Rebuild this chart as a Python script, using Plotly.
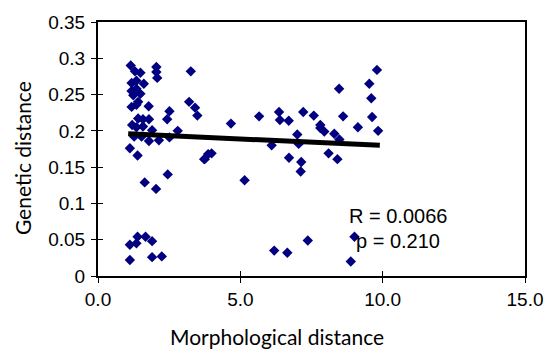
import plotly.graph_objects as go

morph = [1.15, 1.30, 1.49, 2.05, 2.05, 2.08, 3.26, 1.18, 1.35, 1.61, 1.18, 1.35, 1.49, 1.24, 1.41,
         1.18, 1.35, 1.78, 2.51, 2.43, 3.20, 3.41, 3.49, 1.41, 1.58, 1.79, 1.20, 1.35, 1.58, 1.90,
         2.80, 1.27, 1.53, 1.79, 2.14, 2.51, 1.12, 1.39, 3.73, 3.87, 2.45, 1.64, 2.04,
         1.12, 1.39, 1.35, 1.67, 1.90, 1.12, 1.90, 2.24,
         3.75, 3.99, 4.67, 5.15, 5.66, 6.36, 6.39, 6.70, 6.10, 7.21, 7.00, 7.05, 6.71, 7.14, 7.12,
         7.58, 7.81, 7.81, 7.95, 8.30, 8.48, 8.10, 8.41, 8.47, 8.61, 9.13, 9.53, 9.60, 9.63, 9.84,
         9.80, 6.19, 6.65, 7.37, 9.01, 8.88]
genetic = [0.290, 0.282, 0.280, 0.288, 0.281, 0.273, 0.282, 0.266, 0.269, 0.265, 0.255, 0.258, 0.251, 0.249, 0.240,
           0.233, 0.236, 0.234, 0.227, 0.216, 0.240, 0.232, 0.221, 0.217, 0.216, 0.216, 0.208, 0.205, 0.206, 0.201,
           0.200, 0.192, 0.192, 0.186, 0.187, 0.191, 0.176, 0.166, 0.161, 0.168, 0.140, 0.129, 0.120,
           0.043, 0.054, 0.045, 0.054, 0.048, 0.022, 0.026, 0.027,
           0.161, 0.169, 0.210, 0.132, 0.220, 0.226, 0.215, 0.214, 0.180, 0.226, 0.195, 0.182, 0.163, 0.157, 0.144,
           0.221, 0.208, 0.204, 0.199, 0.196, 0.188, 0.169, 0.161, 0.258, 0.220, 0.205, 0.265, 0.245, 0.219, 0.200,
           0.284, 0.035, 0.032, 0.049, 0.054, 0.020]

trend_x = [1.06, 9.9]
trend_y = [0.196, 0.180]

x_ticks = [0, 5, 10, 15]
y_ticks = [0, 0.05, 0.1, 0.15, 0.2, 0.25, 0.3, 0.35]
y_tick_text = ["0", "0.05", "0.1", "0.15", "0.2", "0.25", "0.3", "0.35"]

fig = go.Figure()
fig.add_trace(go.Scatter(x=morph, y=genetic, mode="markers",
                         marker=dict(symbol="diamond", size=8, color="#000080",
                                     line=dict(width=0)), showlegend=False))
fig.add_trace(go.Scatter(x=trend_x, y=trend_y, mode="lines",
                         line=dict(color="black", width=5), showlegend=False))
# invisible trace so the inner-tick overlay axes are drawn
fig.add_trace(go.Scatter(x=[None], y=[None], xaxis="x2", yaxis="y2",
                         mode="markers", showlegend=False, hoverinfo="skip"))

axis_common = dict(showline=True, linecolor="black", linewidth=2, mirror=True,
                   ticks="outside", ticklen=5, tickwidth=1, tickcolor="black",
                   showgrid=False, zeroline=False,
                   tickfont=dict(family="Liberation Sans, Arial", size=19, color="black"))

fig.update_xaxes(range=[0, 15], tickvals=x_ticks, tickformat=".1f", **axis_common)
fig.update_yaxes(range=[0, 0.35], tickvals=y_ticks, ticktext=y_tick_text,
                 ticklabelstandoff=2, **axis_common)

inner = dict(showline=False, ticks="inside", ticklen=5, tickwidth=1, tickcolor="black",
             showgrid=False, zeroline=False, showticklabels=False)
fig.update_layout(
    xaxis2=dict(overlaying="x", range=[0, 15], tickvals=x_ticks, side="bottom", **inner),
    yaxis2=dict(overlaying="y", range=[0, 0.35], tickvals=y_ticks, side="left", **inner),
)

W, H = 555, 352
l, r, t, b = 98, 26, 19, 76
pw, ph = W - l - r, H - t - b

def px(xp):
    return (xp - l) / pw

def py(yp):
    return (H - b - yp) / ph

fig.add_annotation(text="R = 0.0066", x=px(349), y=py(215), xref="paper", yref="paper",
                   xanchor="left", yanchor="middle", showarrow=False,
                   font=dict(family="Liberation Sans, Arial", size=20, color="black"))
fig.add_annotation(text="p = 0.210", x=px(356), y=py(241), xref="paper", yref="paper",
                   xanchor="left", yanchor="middle", showarrow=False,
                   font=dict(family="Liberation Sans, Arial", size=20, color="black"))
fig.add_annotation(text="Morphological distance", x=px(279), y=py(337), xref="paper", yref="paper",
                   xanchor="center", yanchor="middle", showarrow=False,
                   font=dict(family="Lato", size=21, color="black"))
fig.add_annotation(text="Genetic distance", x=px(22), y=py(157), xref="paper", yref="paper",
                   xanchor="center", yanchor="middle", showarrow=False, textangle=-90,
                   font=dict(family="Lato", size=21, color="black"))

fig.update_layout(width=W, height=H, margin=dict(l=l, r=r, t=t, b=b),
                  paper_bgcolor="white", plot_bgcolor="white")

fig.write_html("out.html")
